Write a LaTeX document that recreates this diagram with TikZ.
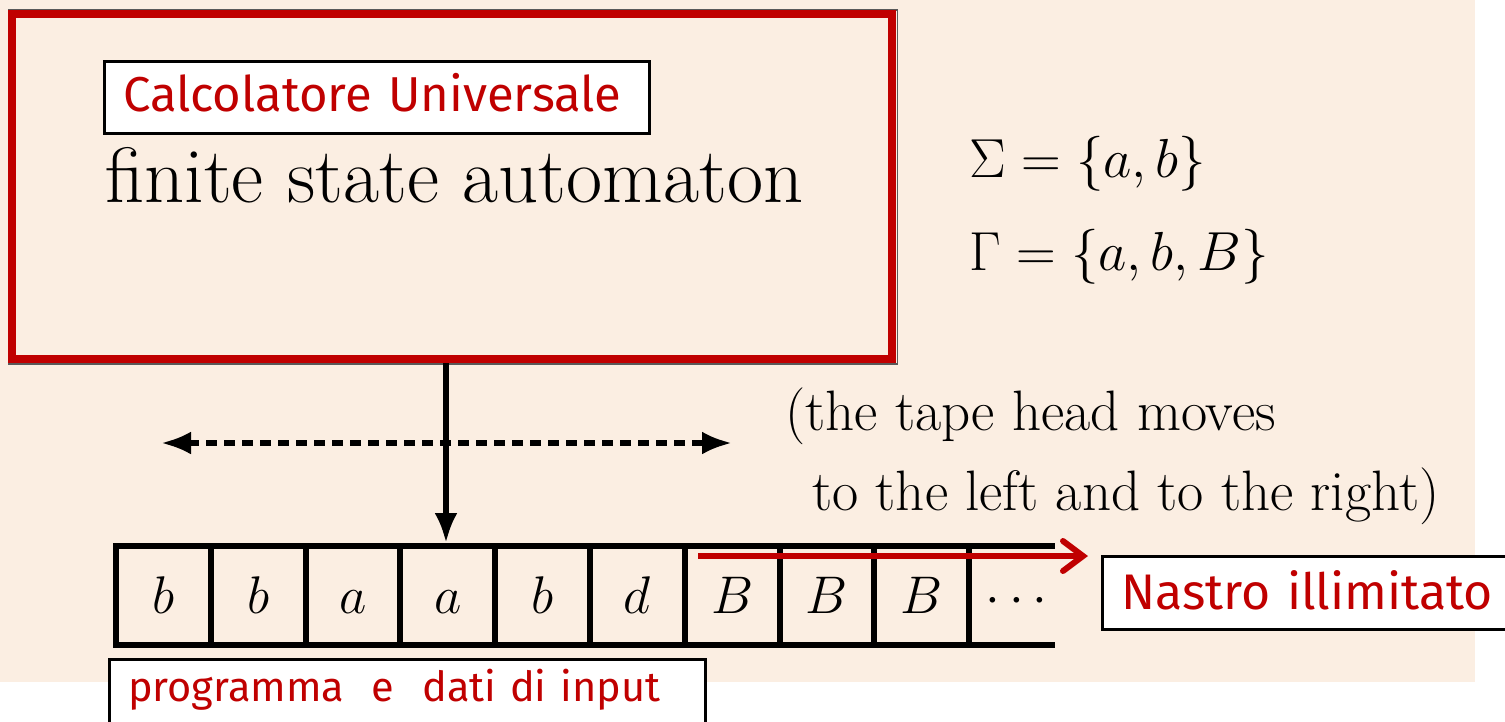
\documentclass[tikz,border=0pt]{standalone}
\usepackage{fix-cm}
\usepackage{fontspec}
\usetikzlibrary{arrows.meta}
\newfontfamily\comicfont{Fira Sans}
\definecolor{bgbeige}{RGB}{251,238,226}
\definecolor{darkred}{RGB}{192,0,0}
\tikzset{headtip/.tip={Latex[length=30pt,width=23pt]}}
\begin{document}
\begin{tikzpicture}[x=1pt,y=-1pt,
  labelbox/.style={draw=black, line width=2.5pt, fill=white, text=darkred,
    font=\comicfont\fontsize{50}{56}\selectfont, align=left,
    inner xsep=19pt, inner ysep=10pt},
  cell/.style={draw=black, line width=6pt, minimum width=94.8pt, minimum height=99pt,
    inner sep=0pt, outer sep=0pt, font=\fontsize{53}{58}\selectfont,
    text height=36pt, text depth=0pt},
  plain/.style={anchor=base west, inner sep=0pt},
  bigtext/.style={font=\fontsize{57}{64}\selectfont},
  mathtext/.style={font=\fontsize{55}{62}\selectfont},
  headarrow/.style={line width=5.5pt}
]
\useasboundingbox (0,0) rectangle (1505,721);
\fill[bgbeige] (0,0) rectangle (1475,682);

% finite state automaton frame
\node[draw=black!65, line width=1.5pt, minimum width=889pt, minimum height=354pt,
  inner sep=0pt, outer sep=0pt] (fsashadow) at (452.8,187) {};
\node[draw=darkred, line width=8pt, minimum width=880pt, minimum height=345.5pt,
  inner sep=0pt, outer sep=0pt] (fsa) at (452,186.25) {};
\node[labelbox, anchor=north west, text width=507pt, text height=40pt, text depth=12pt,
  font=\comicfont\fontsize{49}{55}\selectfont]
  (calc) at (103,60) {\mbox{Calcolatore Universale}};
\node[plain, font=\fontsize{78.5}{86}\selectfont] (fsatext) at (105,202) {finite state automaton};

% alphabets
\node[plain, mathtext] (sigma) at (969,177) {$\Sigma=\{a,b\}$};
\node[plain, mathtext] (gamma) at (969,270) {$\Gamma=\{a,b,B\}$};

% tape
\foreach \i/\t in {1/b,2/b,3/a,4/a,5/b,6/d,7/B,8/B,9/B}
  \node[cell] (c\i) at ({116+94.8*(\i-0.5)},595.5) {$\t$};
\node[cell, draw=none] (c10) at ({116+94.8*9.5},595.5) {$\cdots$};
\coordinate (tapeend) at (1055,595.5);
\draw[line width=6pt] (c9.north east) -- (c9.north east -| tapeend);
\draw[line width=6pt] (c9.south east) -- (c9.south east -| tapeend);

% head arrows
\coordinate (head) at (446,543);
\draw[headarrow, -headtip] ([yshift=-4pt]fsa.south -| head) -- (head);
\coordinate (dl) at (161,443);
\coordinate (dr) at (732,443);
\draw[headarrow, dash pattern=on 11pt off 7pt, headtip-headtip] (dl) -- (dr);

\node[plain, bigtext] (move1) at (785,430) {(the tape head moves};
\node[plain, bigtext] (move2) at (812,510) {to the left and to the right)};

% unlimited tape
\node[labelbox, anchor=north west, text width=400pt, text height=43pt, text depth=10pt]
  (nastro) at (1101,555) {\mbox{Nastro illimitato}};
\coordinate (rs) at (698,556);
\coordinate (re) at (1088,556);
\draw[darkred, line width=6pt, -{Straight Barb[length=20pt,width=30pt,line cap=round]}] (rs) -- (re);

% program and input
\node[labelbox, anchor=north west, text width=558pt, text height=32pt, text depth=40pt,
  font=\comicfont\fontsize{41.5}{48}\selectfont]
  (prog) at (108,658) {\mbox{programma\ \ e\ \ dati di input}};
\end{tikzpicture}
\end{document}
